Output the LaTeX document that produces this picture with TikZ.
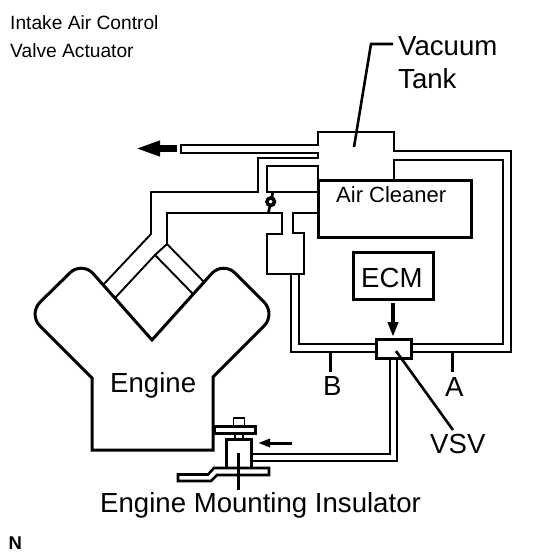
\documentclass[tikz,border=0pt]{standalone}
\usepackage{fontspec}
\setmainfont{Liberation Sans}
\usetikzlibrary{arrows.meta}
\tikzset{
  pipe/.style={line width=1.9pt},
  wall/.style={line width=3pt},
  leader/.style={line width=2.6pt},
  label/.style={inner sep=0pt, anchor=base west, font=\fontsize{27.6}{30}\selectfont},
  smalllabel/.style={inner sep=0pt, anchor=base west, font=\fontsize{19.2}{26}\selectfont}
}
\begin{document}
\begin{tikzpicture}[x=1pt, y=-1pt, line cap=butt, line join=miter]
\useasboundingbox (0,0) rectangle (558,558);

% engine block
\draw[wall] (92,450) -- (92,378) [rounded corners=17pt] -- (28,314) -- (82,261)
  [sharp corners] -- (152,340) [rounded corners=17pt] -- (223,261) -- (276,314)
  [sharp corners] -- (213,377) -- (213,450) -- cycle;
\draw[pipe] (103,285) -- (151,234) -- (151,192) -- (258,192) -- (258,158) -- (318,158) -- (318,153) -- (181,153) -- (181,145) -- (318,145) -- (318,132) -- (394,132) -- (394,151) -- (511,151) -- (511,352) -- (411,352);
\draw[pipe] (205,283) -- (167,244) -- (167,213) -- (282,213) -- (282,234) -- (267,234) -- (267,274) -- (304,274) -- (304,233) -- (293,233) -- (293,213) -- (318,213);
\draw[pipe] (115,298) -- (155,255) -- (194,295);
\draw[pipe] (155,255) -- (167,244);

% air cleaner and the small lines round it
\draw[wall] (318,180) rectangle (471,237);
\draw[pipe] (318,180) -- (318,166) -- (267,166) -- (267,192) -- (318,192);
\draw[pipe] (394,180) -- (394,160) -- (503,160) -- (503,344) -- (411,344);
\draw[pipe] (291,274) -- (291,352) -- (376,352);
\draw[pipe] (299,274) -- (299,344) -- (376,344);

% check valve
\draw[leader] (272.7,192) -- (272,198);
\draw[leader] (270,206) -- (268.3,213);
\draw[line width=3.5pt, fill=white] (270.7,201.7) circle [radius=3.75];

% ECM, VSV
\draw[wall] (353,252) rectangle (433,299);
\draw[wall, fill=white] (376,339) rectangle (411,358);
\draw[line width=4pt, -{Triangle[length=15pt, width=10pt]}] (393,303) -- (393,337);
\draw[pipe] (390,358) -- (390,454) -- (253,454);
\draw[pipe] (397,358) -- (397,461) -- (253,461);
\draw[leader] (396,351) -- (453,430);
\draw[leader] (330.5,352) -- (330.5,372);
\draw[leader] (452.5,352) -- (452.5,372);

% mount
\draw[pipe] (233.5,425) -- (233.5,418) -- (244.5,418) -- (244.5,425);
\draw[wall] (214.5,426) rectangle (255,433);
\draw[wall] (226.5,467) -- (226.5,439.5) -- (251,439.5) -- (251,467);
\draw[pipe] (235,434) -- (235,438);
\draw[pipe] (243,434) -- (243,438);
\draw[leader] (178,474.5) -- (208,474.5) -- (214,468) -- (269,468) -- (269,475) -- (217,475) -- (211,481) -- (178,481) -- cycle;
\draw[wall] (238,453) -- (238,490);
\draw[line width=3pt, -{Triangle[length=12pt, width=8pt]}] (292,443) -- (258,443);
\draw[line width=7pt, -{Triangle[length=25pt, width=14pt]}] (177,148.5) -- (135,148.5);

% leader of the tank
\draw[leader] (354,147) -- (371,44) -- (393,44);

\node[smalllabel] (intake) at (10,29) {Intake Air Control};
\node[smalllabel] (valve) at (10,57) {Valve Actuator};
\node[label] (vacuum) at (398,55) {Vacuum};
\node[label] (tank) at (398,88) {Tank};
\node[inner sep=0pt, anchor=base west, font=\fontsize{22}{26}\selectfont] (cleaner) at (336,202) {Air Cleaner};
\node[label] (ecm) at (361,287) {ECM};
\node[label] (engine) at (110,392) {Engine};
\node[label] (b) at (323,395) {B};
\node[label] (a) at (445,396) {A};
\node[label] (vsv) at (430,453) {VSV};
\node[label] (mounting) at (100,512) {Engine Mounting Insulator};
\node[inner sep=0pt, anchor=base west, font=\fontsize{18.5}{20}\bfseries\selectfont] (n) at (8.5,549) {N};
\end{tikzpicture}
\end{document}
